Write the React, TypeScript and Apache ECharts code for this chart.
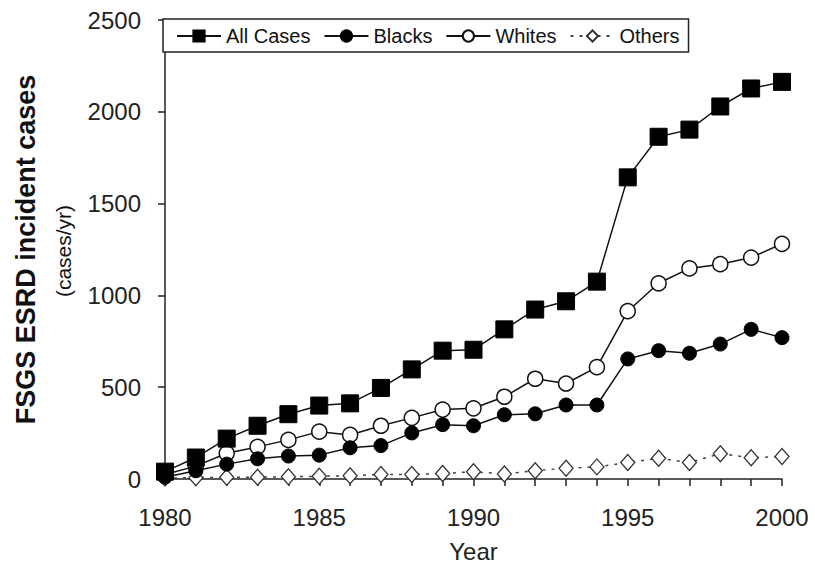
import React, { useEffect, useRef } from "react";
import * as echarts from "echarts";

const years = [1980, 1981, 1982, 1983, 1984, 1985, 1986, 1987, 1988, 1989, 1990, 1991, 1992, 1993, 1994, 1995, 1996, 1997, 1998, 1999, 2000];
const allCases = [40, 117, 220, 290, 353, 400, 412, 496, 597, 699, 704, 815, 923, 968, 1075, 1643, 1864, 1903, 2029, 2127, 2163];
const blacks = [10, 45, 81, 110, 125, 130, 170, 182, 251, 296, 290, 350, 355, 403, 403, 654, 699, 685, 735, 815, 770];
const whites = [25, 70, 140, 175, 213, 258, 240, 290, 333, 378, 385, 448, 546, 520, 609, 914, 1066, 1147, 1170, 1206, 1281];
const others = [5, 7, 9, 10, 12, 15, 18, 25, 25, 30, 40, 27, 45, 59, 66, 90, 113, 90, 138, 116, 122];
const seriesNames = ["All Cases", "Blacks", "Whites", "Others"];
const yTicks = [0, 500, 1000, 1500, 2000, 2500];

const FONT = "'Liberation Sans', Arial, sans-serif";

function pairs(vals: number[]) {
  return years.map((y, i) => [y, vals[i]]);
}

export default function App() {
  const ref = useRef<HTMLDivElement>(null);
  useEffect(() => {
    if (!ref.current) return;
    const chart = echarts.init(ref.current, undefined, { renderer: "svg" });
    chart.setOption({
      animation: false,
      backgroundColor: "#ffffff",
      textStyle: { fontFamily: FONT },
      grid: { left: 165, right: 33, top: 20, bottom: 83, containLabel: false },
      legend: {
        data: seriesNames,
        left: 163,
        top: 19,
        orient: "horizontal",
        padding: [7, 9, 6, 13],
        itemGap: 13,
        itemWidth: 44,
        itemHeight: 14,
        borderColor: "#222",
        borderWidth: 1.5,
        borderRadius: 0,
        backgroundColor: "#fff",
        textStyle: { fontSize: 20, color: "#111", fontFamily: FONT },
      },
      xAxis: {
        type: "value",
        min: 1980,
        max: 2000,
        interval: 1,
        name: "Year",
        nameLocation: "middle",
        nameGap: 60,
        nameTextStyle: { fontSize: 24, color: "#222", fontFamily: FONT },
        axisLine: { show: true, lineStyle: { color: "#222", width: 1.5 } },
        axisTick: { show: true, length: 7, lineStyle: { color: "#222", width: 1.5 } },
        axisLabel: {
          fontSize: 24,
          color: "#222",
          margin: 26,
          fontFamily: FONT,
          formatter: (v: number) => (v % 5 === 0 ? String(v) : ""),
        },
        splitLine: { show: false },
      },
      yAxis: {
        type: "value",
        min: yTicks[0],
        max: yTicks[yTicks.length - 1],
        interval: 500,
        name: "FSGS ESRD incident cases",
        nameLocation: "middle",
        nameRotate: 90,
        nameGap: 126,
        nameTextStyle: { fontSize: 27, fontWeight: "bold", color: "#111", fontFamily: FONT },
        axisLine: { show: true, lineStyle: { color: "#222", width: 1.5 } },
        axisTick: { show: true, length: 7, lineStyle: { color: "#222", width: 1.5 } },
        axisLabel: {
          fontSize: 24,
          color: "#222",
          margin: 24,
          fontFamily: FONT,
          formatter: (v: number) => String(v),
        },
        splitLine: { show: false },
      },
      graphic: [
        {
          type: "text",
          x: 63,
          y: 251,
          rotation: Math.PI / 2,
          style: {
            text: "(cases/yr)",
            fontSize: 21,
            fontFamily: FONT,
            fill: "#111",
            align: "center",
            verticalAlign: "middle",
          },
        },
      ],
      series: [
        {
          name: "Others",
          type: "line",
          data: pairs(others),
          symbol: "diamond",
          symbolSize: [14, 16],
          itemStyle: { color: "#fff", borderColor: "#333", borderWidth: 1.3 },
          lineStyle: { color: "#444", width: 1.5, type: [3, 6] },
          z: 2,
        },
        {
          name: "Whites",
          type: "line",
          data: pairs(whites),
          symbol: "circle",
          symbolSize: 15,
          itemStyle: { color: "#fff", borderColor: "#111", borderWidth: 1.5 },
          lineStyle: { color: "#111", width: 1.5 },
          z: 3,
        },
        {
          name: "Blacks",
          type: "line",
          data: pairs(blacks),
          symbol: "circle",
          symbolSize: 14,
          itemStyle: { color: "#000", borderColor: "#000", borderWidth: 1 },
          lineStyle: { color: "#111", width: 1.5 },
          z: 4,
        },
        {
          name: "All Cases",
          type: "line",
          data: pairs(allCases),
          symbol: "rect",
          symbolSize: 17,
          itemStyle: { color: "#000", borderColor: "#000", borderWidth: 1 },
          lineStyle: { color: "#111", width: 1.5 },
          z: 5,
        },
      ],
    });
    return () => chart.dispose();
  }, []);
  return (
    <div
      ref={ref}
      style={{ position: "fixed", left: 0, top: 0, width: 815, height: 568, background: "#fff" }}
    />
  );
}
